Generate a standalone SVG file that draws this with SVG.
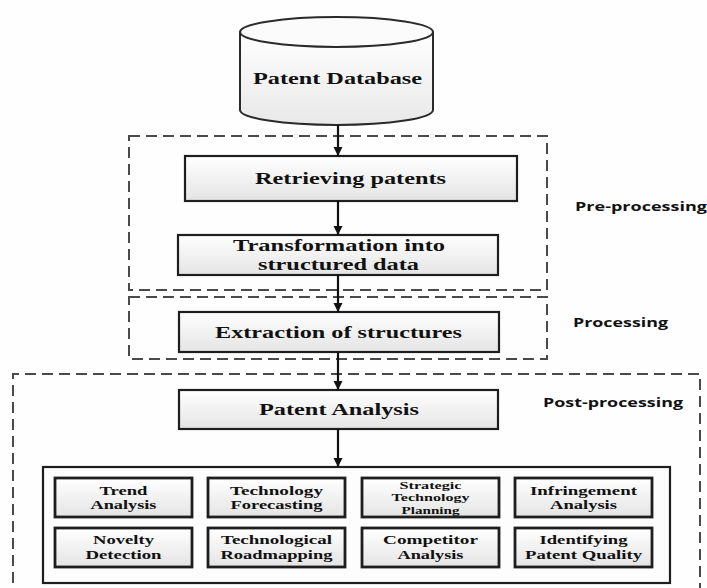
<svg xmlns="http://www.w3.org/2000/svg" width="707" height="588" viewBox="0 0 707 588">
  <style>
    .bg { fill: #fefefe; }
    .box { fill: url(#boxGrad); stroke: #1e1e1e; stroke-width: 2.2; }
    .sbox { fill: url(#boxGrad); stroke: #1e1e1e; stroke-width: 2.8; }
    .outer { fill: #fdfdfd; stroke: #1e1e1e; stroke-width: 2.2; }
    .dash { fill: none; stroke: #4a4a4a; stroke-width: 2; stroke-dasharray: 11 6; }
    .shadow { fill: #9a9a9a; opacity: 0.5; }
    .t { font-family: "Liberation Serif", "Times New Roman", serif; font-weight: bold; fill: #111; text-anchor: middle; }
    .big { font-size: 16px; }
    .sm { font-size: 12px; }
    .xs { font-size: 10px; }
    .lbl { font-family: "Open Sans", "Liberation Sans", Arial, sans-serif; font-weight: bold; font-size: 13px; fill: #111; }
    .conn { stroke: #111; stroke-width: 2.2; fill: none; marker-end: url(#arrow); }
  </style>
  <defs>
    <linearGradient id="boxGrad" x1="0" y1="0" x2="0" y2="1">
      <stop offset="0" stop-color="#ffffff"/>
      <stop offset="1" stop-color="#e4e4e4"/>
    </linearGradient>
    <linearGradient id="cylGrad" x1="0" y1="0" x2="0" y2="1">
      <stop offset="0" stop-color="#ffffff"/>
      <stop offset="1" stop-color="#e8e8e8"/>
    </linearGradient>
    <marker id="arrow" viewBox="0 0 10 10" refX="10" refY="5" markerWidth="4.2" markerHeight="4.2" markerUnits="strokeWidth" orient="auto">
      <path d="M0,0 L10,5 L0,10 Z" fill="#111"/>
    </marker>
  </defs>

  <rect class="bg" x="0" y="0" width="707" height="588"/>

  <!-- Stage regions -->
  <g id="stage-pre-processing">
    <rect class="dash" x="129" y="136" width="418" height="154"/>
    <text class="lbl" x="575" y="210.5" textLength="132" lengthAdjust="spacingAndGlyphs">Pre-processing</text>
  </g>
  <g id="stage-processing">
    <rect class="dash" x="129" y="297" width="418" height="62"/>
    <text class="lbl" x="573" y="326.5" textLength="95" lengthAdjust="spacingAndGlyphs">Processing</text>
  </g>
  <g id="stage-post-processing">
    <path class="dash" d="M13,600 L13,374 L700,374 L700,600"/>
    <text class="lbl" x="543" y="406.5" textLength="140" lengthAdjust="spacingAndGlyphs">Post-processing</text>
  </g>

  <!-- Nodes -->
  <g id="patent-database">
    <path d="M240,32 L240,110 A96.5,15 0 0 0 433,110 L433,32" fill="url(#cylGrad)" stroke="#2a2a2a" stroke-width="2"/>
    <ellipse cx="336.5" cy="32" rx="96.5" ry="15" fill="#fbfbfb" stroke="#2a2a2a" stroke-width="2"/>
    <text class="t big" x="337.5" y="83.5" textLength="169" lengthAdjust="spacingAndGlyphs">Patent Database</text>
  </g>

  <g id="retrieving-patents">
    <rect class="box" x="185" y="156" width="332" height="45"/>
    <text class="t big" x="350.5" y="183.5" textLength="191" lengthAdjust="spacingAndGlyphs">Retrieving patents</text>
  </g>

  <g id="transformation">
    <rect class="box" x="178" y="235" width="320" height="40"/>
    <text class="t big" x="339" y="251" textLength="212" lengthAdjust="spacingAndGlyphs">Transformation into</text>
    <text class="t big" x="338.5" y="270" textLength="161" lengthAdjust="spacingAndGlyphs">structured data</text>
  </g>

  <g id="extraction-of-structures">
    <rect class="box" x="179" y="312" width="320" height="40"/>
    <text class="t big" x="338.5" y="337.5" textLength="247" lengthAdjust="spacingAndGlyphs">Extraction of structures</text>
  </g>

  <g id="patent-analysis">
    <rect class="box" x="179" y="390" width="319" height="39"/>
    <text class="t big" x="339" y="414.5" textLength="160" lengthAdjust="spacingAndGlyphs">Patent Analysis</text>
  </g>

  <g id="analysis-types">
    <rect class="outer" x="43" y="467" width="627" height="116"/>

    <g id="trend-analysis">
      <rect class="sbox" x="55" y="478" width="137" height="39"/>
      <text class="t sm" x="123.5" y="495" textLength="48" lengthAdjust="spacingAndGlyphs">Trend</text>
      <text class="t sm" x="123.5" y="509" textLength="66" lengthAdjust="spacingAndGlyphs">Analysis</text>
    </g>
    <g id="technology-forecasting">
      <rect class="sbox" x="208" y="478" width="137" height="39"/>
      <text class="t sm" x="276.5" y="495" textLength="93" lengthAdjust="spacingAndGlyphs">Technology</text>
      <text class="t sm" x="276.5" y="509" textLength="92" lengthAdjust="spacingAndGlyphs">Forecasting</text>
    </g>
    <g id="strategic-technology-planning">
      <rect class="sbox" x="362" y="478" width="137" height="39"/>
      <text class="t xs" x="430.5" y="488.5" textLength="62" lengthAdjust="spacingAndGlyphs">Strategic</text>
      <text class="t xs" x="430.5" y="500.5" textLength="78" lengthAdjust="spacingAndGlyphs">Technology</text>
      <text class="t xs" x="430.5" y="513.5" textLength="58" lengthAdjust="spacingAndGlyphs">Planning</text>
    </g>
    <g id="infringement-analysis">
      <rect class="sbox" x="515" y="478" width="137" height="39"/>
      <text class="t sm" x="583.5" y="495" textLength="107" lengthAdjust="spacingAndGlyphs">Infringement</text>
      <text class="t sm" x="583.5" y="509" textLength="67" lengthAdjust="spacingAndGlyphs">Analysis</text>
    </g>
    <g id="novelty-detection">
      <rect class="sbox" x="55" y="528" width="137" height="39"/>
      <text class="t sm" x="123.5" y="544" textLength="61" lengthAdjust="spacingAndGlyphs">Novelty</text>
      <text class="t sm" x="123.5" y="559" textLength="76" lengthAdjust="spacingAndGlyphs">Detection</text>
    </g>
    <g id="technological-roadmapping">
      <rect class="sbox" x="208" y="528" width="137" height="39"/>
      <text class="t sm" x="276.5" y="544" textLength="111" lengthAdjust="spacingAndGlyphs">Technological</text>
      <text class="t sm" x="276.5" y="559" textLength="112" lengthAdjust="spacingAndGlyphs">Roadmapping</text>
    </g>
    <g id="competitor-analysis">
      <rect class="sbox" x="362" y="528" width="137" height="39"/>
      <text class="t sm" x="430.5" y="544" textLength="95" lengthAdjust="spacingAndGlyphs">Competitor</text>
      <text class="t sm" x="430.5" y="559" textLength="66" lengthAdjust="spacingAndGlyphs">Analysis</text>
    </g>
    <g id="identifying-patent-quality">
      <rect class="sbox" x="515" y="528" width="137" height="39"/>
      <text class="t sm" x="583.5" y="544" textLength="88" lengthAdjust="spacingAndGlyphs">Identifying</text>
      <text class="t sm" x="583.5" y="559" textLength="117" lengthAdjust="spacingAndGlyphs">Patent Quality</text>
    </g>
  </g>

  <!-- Connectors -->
  <g id="connectors">
    <line class="conn" x1="338" y1="125" x2="338" y2="156"/>
    <line class="conn" x1="338" y1="201" x2="338" y2="235"/>
    <line class="conn" x1="338" y1="275" x2="338" y2="312"/>
    <line class="conn" x1="338" y1="352" x2="338" y2="390"/>
    <line class="conn" x1="338" y1="429" x2="338" y2="467"/>
  </g>
</svg>
